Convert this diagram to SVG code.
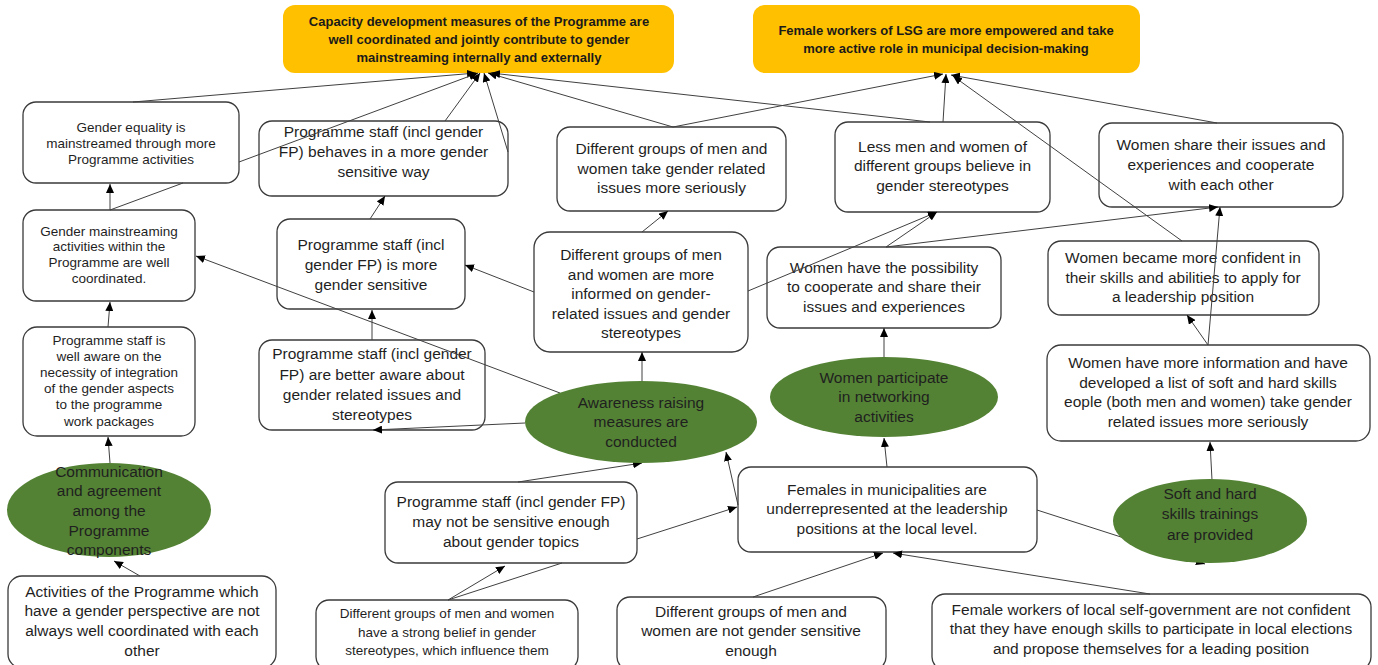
<svg xmlns="http://www.w3.org/2000/svg" width="1378" height="665" viewBox="0 0 1378 665">
<defs>
<style>
.box{fill:#fff;stroke:#3a3a3a;stroke-width:1.3}
.goal{fill:#FFC000}
.act{fill:#548235}
text{font-family:"Liberation Sans",Arial,sans-serif;font-size:15.5px;fill:#1f1f1f;text-anchor:middle}
.ta{font-size:13.5px}
.tb{font-size:13px;font-weight:bold;fill:#1a1a1a}
.tc{font-size:13.5px}
#connectors path{stroke:#404040;stroke-width:1;fill:none}
</style>
<marker id="ah" markerWidth="10" markerHeight="8" refX="9" refY="4" orient="auto" markerUnits="userSpaceOnUse"><path d="M0,0 L9,4 L0,8 z" fill="#000"/></marker>
</defs>
<rect width="1378" height="665" fill="#fff"/>

<g id="goalA"><rect class="goal" x="283" y="5" width="391" height="68" rx="12"/>
<text class="tb" x="479" y="26">Capacity development measures of the Programme are</text>
<text class="tb" x="479" y="44">well coordinated and jointly contribute to gender</text>
<text class="tb" x="479" y="62">mainstreaming internally and externally</text></g>
<g id="goalB"><rect class="goal" x="753" y="5" width="387" height="68" rx="12"/>
<text class="tb" x="946" y="35">Female workers of LSG are more empowered and take</text>
<text class="tb" x="946" y="53">more active role in municipal decision-making</text></g>

<g id="n1"><rect class="box" x="23" y="102" width="216" height="81" rx="13"/>
<text class="ta" x="131" y="132">Gender equality is</text>
<text class="ta" x="131" y="148">mainstreamed through more</text>
<text class="ta" x="131" y="164">Programme activities</text></g>
<g id="n2"><rect class="box" x="259" y="121" width="249" height="75" rx="13"/>
<text x="383.5" y="137">Programme staff (incl gender</text>
<text x="383.5" y="157">FP) behaves in a more gender</text>
<text x="383.5" y="177">sensitive way</text></g>
<g id="n3"><rect class="box" x="557" y="127" width="229" height="84" rx="13"/>
<text x="671.5" y="154">Different groups of men and</text>
<text x="671.5" y="174">women take gender related</text>
<text x="671.5" y="193">issues more seriously</text></g>
<g id="n4"><rect class="box" x="835" y="122" width="215" height="90" rx="13"/>
<text x="942.5" y="152">Less men and women of</text>
<text x="942.5" y="171">different groups believe in</text>
<text x="942.5" y="191">gender stereotypes</text></g>
<g id="n5"><rect class="box" x="1099" y="123" width="244" height="84" rx="13"/>
<text x="1221" y="150">Women share their issues and</text>
<text x="1221" y="170">experiences and cooperate</text>
<text x="1221" y="190">with each other</text></g>
<g id="n6"><rect class="box" x="23" y="210" width="172" height="91" rx="13"/>
<text class="ta" x="109" y="236">Gender mainstreaming</text>
<text class="ta" x="109" y="251">activities within the</text>
<text class="ta" x="109" y="267">Programme are well</text>
<text class="ta" x="109" y="283">coordinated.</text></g>
<g id="n7"><rect class="box" x="277" y="219" width="188" height="90" rx="13"/>
<text x="371" y="250">Programme staff (incl</text>
<text x="371" y="270">gender FP) is more</text>
<text x="371" y="290">gender sensitive</text></g>
<g id="n8"><rect class="box" x="534" y="232" width="214" height="120" rx="16"/>
<text x="641" y="260">Different groups of men</text>
<text x="641" y="280">and women are more</text>
<text x="641" y="299">informed on gender-</text>
<text x="641" y="319">related issues and gender</text>
<text x="641" y="338">stereotypes</text></g>
<g id="n9"><rect class="box" x="767" y="247" width="234" height="81" rx="13"/>
<text x="884" y="273">Women have the possibility</text>
<text x="884" y="292">to cooperate and share their</text>
<text x="884" y="312">issues and experiences</text></g>
<g id="n10"><rect class="box" x="1048" y="241" width="271" height="74" rx="13"/>
<text x="1183" y="263">Women became more confident in</text>
<text x="1183" y="283">their skills and abilities to apply for</text>
<text x="1183" y="302">a leadership position</text></g>
<g id="n11"><rect class="box" x="23" y="327" width="172" height="109" rx="14"/>
<text class="ta" x="109" y="345">Programme staff is</text>
<text class="ta" x="109" y="361">well aware on the</text>
<text class="ta" x="109" y="377">necessity of integration</text>
<text class="ta" x="109" y="393">of the gender aspects</text>
<text class="ta" x="109" y="409">to the programme</text>
<text class="ta" x="109" y="426">work packages</text></g>
<g id="n12"><rect class="box" x="259" y="340" width="226" height="90" rx="13"/>
<text x="372" y="359">Programme staff (incl gender</text>
<text x="372" y="380">FP) are better aware about</text>
<text x="372" y="400">gender related issues and</text>
<text x="372" y="420">stereotypes</text></g>
<g id="n13"><rect class="box" x="1047" y="345" width="323" height="96" rx="14"/>
<text x="1208" y="368">Women have more information and have</text>
<text x="1208" y="388">developed a list of soft and hard skills</text>
<text x="1208" y="407">eople (both men and women) take gender</text>
<text x="1208" y="427">related issues more seriously</text></g>
<g id="n14"><rect class="box" x="385" y="482" width="252" height="81" rx="13"/>
<text x="511" y="507">Programme staff (incl gender FP)</text>
<text x="511" y="527">may not be sensitive enough</text>
<text x="511" y="547">about gender topics</text></g>
<g id="n15"><rect class="box" x="738" y="467" width="299" height="85" rx="13"/>
<text x="887" y="495">Females in municipalities are</text>
<text x="887" y="514">underrepresented at the leadership</text>
<text x="887" y="534">positions at the local level.</text></g>
<g id="n16"><rect class="box" x="8" y="576" width="268" height="92" rx="14"/>
<text x="142" y="597">Activities of the Programme which</text>
<text x="142" y="616">have a gender perspective are not</text>
<text x="142" y="636">always well coordinated with each</text>
<text x="142" y="656">other</text></g>
<g id="n17"><rect class="box" x="316" y="600" width="262" height="70" rx="13"/>
<text class="tc" x="447" y="618">Different groups of men and women</text>
<text class="tc" x="447" y="637">have a strong belief in gender</text>
<text class="tc" x="447" y="655">stereotypes, which influence them</text></g>
<g id="n18"><rect class="box" x="617" y="597" width="269" height="73" rx="13"/>
<text x="751" y="617">Different groups of men and</text>
<text x="751" y="636">women are not gender sensitive</text>
<text x="751" y="656">enough</text></g>
<g id="n19"><rect class="box" x="932" y="594" width="439" height="76" rx="13"/>
<text x="1151" y="615">Female workers of local self-government are not confident</text>
<text x="1151" y="634">that they have enough skills to participate in local elections</text>
<text x="1151" y="654">and propose themselves for a leading position</text></g>

<g id="connectors">
<path d="M133,102 L476,73" marker-end="url(#ah)"/>
<path d="M110,210 L183,183 M239,162 L478,73" marker-end="url(#ah)"/>
<path d="M110,210 L110,184" marker-end="url(#ah)"/>
<path d="M445,121 L480,73" marker-end="url(#ah)"/>
<path d="M508,152 L484,73" marker-end="url(#ah)"/>
<path d="M673,127 L488,73" marker-end="url(#ah)"/>
<path d="M930,122 L491,73" marker-end="url(#ah)"/>
<path d="M673,127 L943,74" marker-end="url(#ah)"/>
<path d="M943,122 L946,74" marker-end="url(#ah)"/>
<path d="M1217,123 L951,75" marker-end="url(#ah)"/>
<path d="M1182,241 L953,76" marker-end="url(#ah)"/>
<path d="M370,219 L385,196" marker-end="url(#ah)"/>
<path d="M642,232 L668,211" marker-end="url(#ah)"/>
<path d="M534,292 L465,265" marker-end="url(#ah)"/>
<path d="M748,291 L937,212" marker-end="url(#ah)"/>
<path d="M886,247 L937,212" marker-end="url(#ah)"/>
<path d="M886,247 L1218,207" marker-end="url(#ah)"/>
<path d="M1208,345 L1220,207" marker-end="url(#ah)"/>
<path d="M1208,345 L1187,315" marker-end="url(#ah)"/>
<path d="M1212,480 L1210,442" marker-end="url(#ah)"/>
<path d="M108,327 L110,302" marker-end="url(#ah)"/>
<path d="M110,463 L108,437" marker-end="url(#ah)"/>
<path d="M140,576 L114,561" marker-end="url(#ah)"/>
<path d="M372,340 L372,310" marker-end="url(#ah)"/>
<path d="M560,393 L196,256" marker-end="url(#ah)"/>
<path d="M525,423 L373,430" marker-end="url(#ah)"/>
<path d="M642,382 L642,352" marker-end="url(#ah)"/>
<path d="M884,357 L884,328" marker-end="url(#ah)"/>
<path d="M518,482 L642,463" marker-end="url(#ah)"/>
<path d="M738,505 L726,452" marker-end="url(#ah)"/>
<path d="M448,600 L562,563 M637,539 L737,507" marker-end="url(#ah)"/>
<path d="M448,600 L505,566" marker-end="url(#ah)"/>
<path d="M887,467 L884,438" marker-end="url(#ah)"/>
<path d="M753,597 L883,553" marker-end="url(#ah)"/>
<path d="M1150,594 L893,553" marker-end="url(#ah)"/>
<path d="M1037,510 L1205,564" marker-end="url(#ah)"/>
</g>

<g id="e1"><ellipse class="act" cx="109" cy="510" rx="102" ry="47"/>
<text x="109" y="477">Communication</text>
<text x="109" y="496">and agreement</text>
<text x="109" y="516">among the</text>
<text x="109" y="536">Programme</text>
<text x="109" y="555">components</text></g>
<g id="e2"><ellipse class="act" cx="641" cy="422" rx="116" ry="41"/>
<text x="641" y="408">Awareness raising</text>
<text x="641" y="427">measures are</text>
<text x="641" y="447">conducted</text></g>
<g id="e3"><ellipse class="act" cx="884" cy="397" rx="114" ry="40"/>
<text x="884" y="383">Women participate</text>
<text x="884" y="402">in networking</text>
<text x="884" y="422">activities</text></g>
<g id="e4"><ellipse class="act" cx="1210" cy="521" rx="97" ry="42"/>
<text x="1210" y="499">Soft and hard</text>
<text x="1210" y="519">skills trainings</text>
<text x="1210" y="540">are provided</text></g>
</svg>
